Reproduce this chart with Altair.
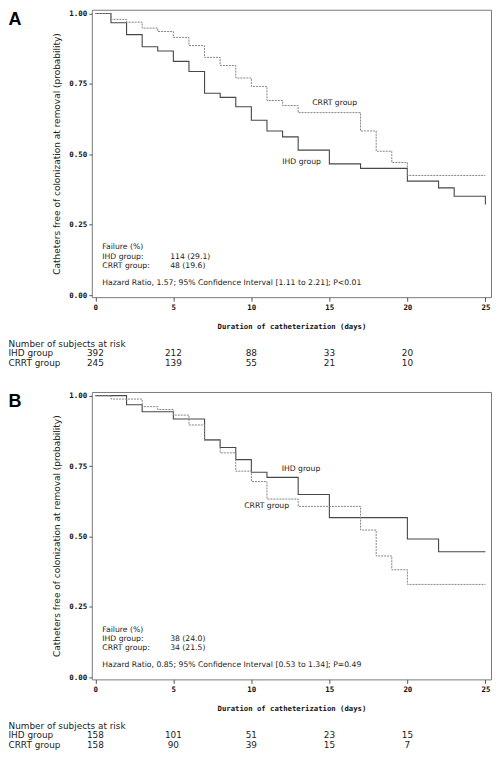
import altair as alt
import pandas as pd

# ---------------- data ----------------
a_ihd_day = [0, 1, 2, 3, 4, 5, 6, 7, 8, 9, 10, 11, 12, 13, 15, 17, 20, 22, 23, 25]
a_ihd_surv = [1.0, 0.967, 0.925, 0.882, 0.867, 0.830, 0.794, 0.717, 0.702, 0.669,
              0.621, 0.583, 0.562, 0.515, 0.466, 0.450, 0.405, 0.381, 0.351, 0.322]
a_crrt_day = [0, 1, 2, 3, 4, 5, 6, 7, 8, 9, 10, 11, 12, 13, 17, 18, 19, 20, 25]
a_crrt_surv = [1.0, 0.979, 0.969, 0.948, 0.936, 0.915, 0.886, 0.844, 0.815, 0.771,
               0.741, 0.691, 0.673, 0.648, 0.583, 0.511, 0.471, 0.425, 0.425]

b_ihd_day = [0, 2, 3, 5, 7, 8, 9, 10, 11, 13, 15, 20, 22, 25]
b_ihd_surv = [1.0, 0.968, 0.943, 0.917, 0.843, 0.816, 0.773, 0.728, 0.710, 0.649,
              0.567, 0.491, 0.446, 0.446]
b_crrt_day = [0, 1, 3, 4, 5, 6, 7, 8, 9, 10, 11, 13, 17, 18, 19, 20, 25]
b_crrt_surv = [1.0, 0.988, 0.961, 0.951, 0.931, 0.896, 0.842, 0.797, 0.732, 0.695,
               0.633, 0.607, 0.523, 0.431, 0.382, 0.330, 0.330]

risk_days = [0, 5, 10, 15, 20]
a_risk_ihd = [392, 212, 88, 33, 20]
a_risk_crrt = [245, 139, 55, 21, 10]
b_risk_ihd = [158, 101, 51, 23, 15]
b_risk_crrt = [158, 90, 39, 15, 7]

risk_rows = ["Number of subjects at risk", "IHD group", "CRRT group"]
group_names = ["IHD group", "CRRT group"]

a_fail = ["114 (29.1)", "48 (19.6)"]
b_fail = ["38 (24.0)", "34 (21.5)"]
a_hr = "Hazard Ratio, 1.57; 95% Confidence Interval [1.11 to 2.21]; P<0.01"
b_hr = "Hazard Ratio, 0.85; 95% Confidence Interval [0.53 to 1.34]; P=0.49"

# label anchor points (day, survival) for the curve names
a_lab_day = [11.98, 13.9]
a_lab_surv = [0.473, 0.681]
b_lab_day = [11.94, 9.54]
b_lab_surv = [0.741, 0.609]

x_ticks = [0, 5, 10, 15, 20, 25]
y_ticks = [0, 0.25, 0.5, 0.75, 1.0]

X_TITLE = "Duration of catheterization (days)"
Y_TITLE = "Catheters free of colonization at removal (probability)"

W = 400
LEFT = -83.5
SANS = "DejaVu Sans"
MONO = "DejaVu Sans Mono"
TXT = "#222222"
ROW_OFF = [46.5, 56, 65.5]
RISK_FS = 8.9
IN_FS = 7.7


def panel(letter, ihd_day, ihd_surv, crrt_day, crrt_surv, risk_ihd, risk_crrt,
          fail, hr, lab_day, lab_surv, h):
    ppu = h - 5.7
    xs = alt.Scale(domain=[-0.226, 25.36], nice=False, zero=False)
    ys = alt.Scale(domain=[-2.0 / ppu, 1 + 3.7 / ppu], nice=False, zero=False)
    xax = alt.Axis(values=x_ticks, format="d", title=X_TITLE, domain=False, grid=False,
                   tickSize=4, tickColor="#555555", labelFont=MONO, labelFontWeight="bold",
                   labelFontSize=7.5, labelColor="#111111", labelPadding=6,
                   labelBaseline="middle", labelOverlap=False,
                   titleFont=MONO, titleFontWeight="bold", titleFontSize=7.3,
                   titleColor="#111111", titleY=29, titleBaseline="middle")
    yax = alt.Axis(values=y_ticks, format=".2f", title=Y_TITLE, domain=False, grid=False,
                   tickSize=3, tickColor="#555555", labelFont=MONO, labelFontWeight="bold",
                   labelFontSize=7.5, labelColor="#111111", labelPadding=2,
                   labelOverlap=False,
                   titleFont=SANS, titleFontWeight="normal", titleFontSize=9,
                   titleColor=TXT, titleX=-35, titleY=h / 2, titleAngle=270,
                   titleBaseline="middle", titleAlign="center")
    X = alt.X("day:Q", scale=xs, axis=xax)
    Y = alt.Y("surv:Q", scale=ys, axis=yax)

    ihd = alt.Chart(pd.DataFrame({"day": ihd_day, "surv": ihd_surv})).mark_line(
        interpolate="step-after", color="#474747", strokeWidth=1.1
    ).encode(x=X, y=Y)
    crrt = alt.Chart(pd.DataFrame({"day": crrt_day, "surv": crrt_surv})).mark_line(
        interpolate="step-after", color="#858585", strokeWidth=1.0, strokeDash=[2, 1]
    ).encode(x=X, y=Y)

    labels = alt.Chart(pd.DataFrame({"day": lab_day, "surv": lab_surv, "t": group_names})).mark_text(
        align="left", baseline="middle", font=SANS, fontSize=IN_FS, color=TXT
    ).encode(x=X, y=Y, text="t:N")

    risk = pd.DataFrame({"day": risk_days, "ihd": risk_ihd, "crrt": risk_crrt})
    risk_i = alt.Chart(risk).mark_text(baseline="middle", font=SANS, fontSize=RISK_FS, color=TXT).encode(
        x=X, y=alt.value(h + ROW_OFF[1]), text="ihd:N")
    risk_c = alt.Chart(risk).mark_text(baseline="middle", font=SANS, fontSize=RISK_FS, color=TXT).encode(
        x=X, y=alt.value(h + ROW_OFF[2]), text="crrt:N")

    rows = []
    for i, r in enumerate(risk_rows):
        rows.append(alt.Chart(pd.DataFrame({"t": [r]})).mark_text(
            align="left", baseline="middle", font=SANS, fontSize=RISK_FS, color=TXT
        ).encode(x=alt.value(LEFT), y=alt.value(h + ROW_OFF[i]), text="t:N"))

    # failure block
    blk = []
    blk.append(alt.Chart(pd.DataFrame({"t": ["Failure (%)"]})).mark_text(
        align="left", baseline="middle", font=SANS, fontSize=IN_FS, color=TXT
    ).encode(x=alt.value(10.5), y=alt.value(h - 49.8), text="t:N"))
    for i, g in enumerate(group_names):
        blk.append(alt.Chart(pd.DataFrame({"t": [g + ":"]})).mark_text(
            align="left", baseline="middle", font=SANS, fontSize=IN_FS, color=TXT
        ).encode(x=alt.value(10.5), y=alt.value(h - 40.7 + 9.2 * i), text="t:N"))
        blk.append(alt.Chart(pd.DataFrame({"t": [fail[i]]})).mark_text(
            align="left", baseline="middle", font=SANS, fontSize=IN_FS, color=TXT
        ).encode(x=alt.value(78.5), y=alt.value(h - 40.7 + 9.2 * i), text="t:N"))
    blk.append(alt.Chart(pd.DataFrame({"t": [hr]})).mark_text(
        align="left", baseline="middle", font=SANS, fontSize=IN_FS, color=TXT
    ).encode(x=alt.value(10.5), y=alt.value(h - 14.2), text="t:N"))

    let = alt.Chart(pd.DataFrame({"t": [letter]})).mark_text(
        align="left", baseline="top", font="Liberation Sans", fontWeight="bold",
        fontSize=18, color="#000000"
    ).encode(x=alt.value(LEFT), y=alt.value(1), text="t:N")

    return alt.layer(ihd, crrt, labels, risk_i, risk_c, *rows, *blk, let).properties(
        width=W, height=h)


pa = panel("A", a_ihd_day, a_ihd_surv, a_crrt_day, a_crrt_surv, a_risk_ihd, a_risk_crrt,
           a_fail, a_hr, a_lab_day, a_lab_surv, 288)
pb = panel("B", b_ihd_day, b_ihd_surv, b_crrt_day, b_crrt_surv, b_risk_ihd, b_risk_crrt,
           b_fail, b_hr, b_lab_day, b_lab_surv, 288)

chart = alt.vconcat(pa, pb, spacing=95, bounds="flush").properties(
    padding=0, background="white"
).configure_view(stroke="#7a7a7a", strokeWidth=1)

chart.save("out.html", embed_options={"renderer": "svg", "actions": False})
